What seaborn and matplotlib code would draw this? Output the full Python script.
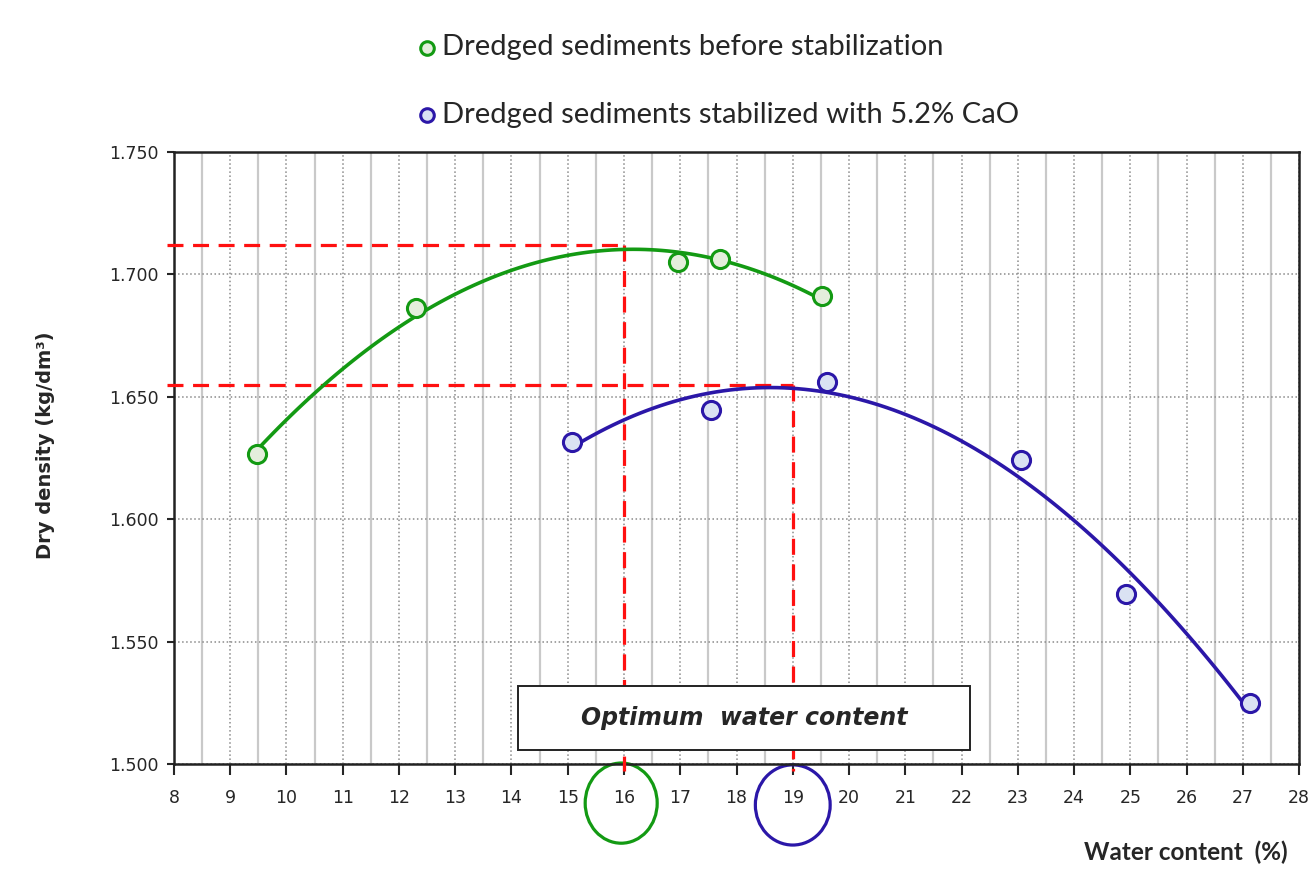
import numpy as np
import matplotlib.pyplot as plt
import seaborn as sns
import pandas as pd
from matplotlib.patches import Rectangle, Ellipse
from matplotlib.ticker import FormatStrFormatter

# values
water_before = [9.47, 12.30, 16.96, 17.71, 19.52]
density_before = [1.6266, 1.6863, 1.7051, 1.7063, 1.6912]

water_cao = [15.07, 17.54, 19.60, 23.06, 24.92, 27.12]
density_cao = [1.6315, 1.6446, 1.6560, 1.6242, 1.5694, 1.5249]

label_before = 'Dredged sediments before stabilization'
label_cao = 'Dredged sediments stabilized with 5.2% CaO'

opt_water = [16, 19]
opt_density = [1.712, 1.655]

x_ticks = list(range(8, 29))
y_ticks = [1.500, 1.550, 1.600, 1.650, 1.700, 1.750]

GREEN = '#139a13'
GREEN_FILL = '#e4eedc'
BLUE = '#2b17a8'
BLUE_FILL = '#dae2f3'
RED = '#ff1010'

sns.set_style('white')
plt.rcParams['font.family'] = ['DejaVu Sans']

fig = plt.figure(figsize=(13.09, 8.77), dpi=100)
ax = fig.add_axes([0.1329, 0.1289, 0.8595, 0.6978])

# fitted trend lines (polynomial, like the spreadsheet trendline)
sns.regplot(x=water_before, y=density_before, order=2, ci=None, scatter=False,
            color=GREEN, line_kws=dict(lw=2.6, zorder=4), ax=ax)
sns.regplot(x=water_cao, y=density_cao, order=3, ci=None, scatter=False,
            color=BLUE, line_kws=dict(lw=2.6, zorder=4), ax=ax)

sns.scatterplot(x=water_before, y=density_before, color=GREEN_FILL, edgecolor=GREEN,
                linewidth=2.2, s=170, label=label_before, zorder=5, ax=ax)
sns.scatterplot(x=water_cao, y=density_cao, color=BLUE_FILL, edgecolor=BLUE,
                linewidth=2.2, s=170, label=label_cao, zorder=5, ax=ax)

# optimum guide lines
for w, d in zip(opt_water, opt_density):
    ax.plot([7.88, w], [d, d], color=RED, lw=2.3, ls=(0, (5, 3)), zorder=3, clip_on=False)
    ax.plot([w, w], [d, 1.497], color=RED, lw=2.3, ls=(0, (5, 3)), zorder=3, clip_on=False)

# annotation box
ax.add_patch(Rectangle((14.12, 1.5057), 8.03, 0.0262, facecolor='white',
                       edgecolor='#222222', lw=1.4, zorder=3.5))
ax.text(18.13, 1.5188, 'Optimum  water content', ha='center', va='center',
        fontsize=17, fontweight='bold', fontstyle='italic', zorder=3.6)

# circles round the optimum tick labels
trans = ax.get_xaxis_transform()
ax.add_patch(Ellipse((15.95, -0.064), 1.28, 0.131, transform=trans, fill=False,
                     edgecolor=GREEN, lw=2.3, clip_on=False))
ax.add_patch(Ellipse((19.0, -0.067), 1.33, 0.131, transform=trans, fill=False,
                     edgecolor=BLUE, lw=2.3, clip_on=False))

ax.set_xlim(8, 28)
ax.set_ylim(1.5, 1.75)
ax.set_xticks(x_ticks)
ax.set_xticks(np.arange(8.5, 28, 1), minor=True)
ax.set_yticks(y_ticks)
ax.yaxis.set_major_formatter(FormatStrFormatter('%.3f'))

ax.xaxis.grid(True, which='major', ls=':', color='#8a8a8a', lw=1.1)
ax.xaxis.grid(True, which='minor', ls='-', color='#c9c9c9', lw=1.6)
ax.yaxis.grid(True, which='major', ls=':', color='#8a8a8a', lw=1.1)
ax.set_axisbelow(True)

ax.tick_params(axis='x', which='major', direction='out', length=8, width=1.5,
               labelsize=12.5, pad=10, bottom=True)
ax.tick_params(axis='x', which='minor', length=0)
ax.tick_params(axis='y', direction='out', length=5, width=1.5, labelsize=12.5,
               left=True, pad=6)
for s in ax.spines.values():
    s.set_color('#222222')
    s.set_linewidth(1.8)

ax.set_xlabel('Water content  (%)', fontsize=17.5, fontweight='bold',
              family=['Lato', 'DejaVu Sans'], ha='right', va='center')
ax.xaxis.set_label_coords(0.990, -0.144)
ax.set_ylabel('Dry density (kg/dm³)', fontsize=14, fontweight='bold', va='center')
ax.yaxis.set_label_coords(-0.114, 0.521)

handles, labels = ax.get_legend_handles_labels()
ax.get_legend().remove()
fig.legend(handles, labels, loc='upper left', bbox_to_anchor=(0.3195, 0.961),
           frameon=False, prop={'family': ['Lato', 'DejaVu Sans'], 'size': 21},
           labelspacing=1.43, handlelength=0.6, handletextpad=0.2, markerscale=0.75,
           borderpad=0, borderaxespad=0)

fig.savefig('out.png', dpi=100)
